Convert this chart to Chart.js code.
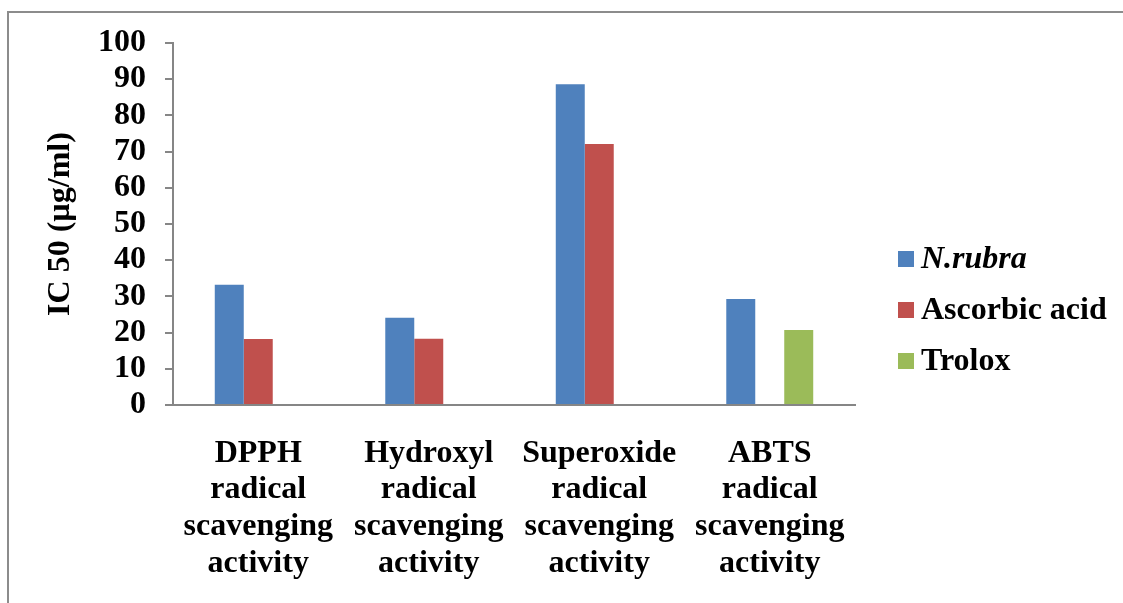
<!DOCTYPE html>
<html>
<head>
<meta charset="utf-8">
<script src="https://cdn.jsdelivr.net/npm/chart.js@4/dist/chart.umd.min.js"></script>
<style>
  html, body { margin: 0; padding: 0; background: #fff; }
  body { width: 1123px; height: 603px; overflow: hidden; position: relative; }
  #frame {
    position: absolute; left: 7px; top: 11px; right: 0; bottom: 0;
    border-left: 2px solid #8c8c8c; border-top: 2px solid #8c8c8c;
  }
  #wrap { position: absolute; left: 0; top: 0; width: 1114px; height: 590px; }
</style>
</head>
<body>
<div id="frame"><div id="wrap"><canvas id="c" width="1114" height="590"></canvas></div></div>
<script>
// Categories (multi-line axis labels)
const categories = [
  ['DPPH', 'radical', 'scavenging', 'activity'],
  ['Hydroxyl', 'radical', 'scavenging', 'activity'],
  ['Superoxide', 'radical', 'scavenging', 'activity'],
  ['ABTS', 'radical', 'scavenging', 'activity']
];
// IC50 values (µg/ml)
const nRubra = [33.2, 24.1, 88.6, 29.3];
const ascorbicAcid = [18.2, 18.3, 72.1, null];
const trolox = [null, null, null, 20.7];
const seriesNames = ['N.rubra', 'Ascorbic acid', 'Trolox'];
const yTicks = [0, 10, 20, 30, 40, 50, 60, 70, 80, 90, 100];

const colors = ['#4F81BD', '#C0504D', '#9BBB59'];
const serif = '"Liberation Serif", "Times New Roman", serif';
const fontSize = 32;

// Legend drawn to the right of the plot; the first entry is a species name, set in italics
const sideLegend = {
  id: 'sideLegend',
  afterDraw(chart) {
    const ctx = chart.ctx;
    const area = chart.chartArea;
    const cy = chart.height / 2 + 2;
    const step = 51;
    ctx.save();
    chart.data.datasets.forEach((ds, i) => {
      const y = cy + (i - 1) * step;
      const bx = area.right + 43;
      ctx.fillStyle = ds.backgroundColor;
      ctx.fillRect(bx, y - 8, 16, 16);
      ctx.fillStyle = '#000';
      ctx.font = (i === 0 ? 'italic ' : '') + 'bold ' + fontSize + 'px ' + serif;
      ctx.textBaseline = 'middle';
      ctx.textAlign = 'left';
      ctx.fillText(ds.label, bx + 23, y + 1);
    });
    ctx.restore();
  }
};

new Chart(document.getElementById('c'), {
  type: 'bar',
  data: {
    labels: categories,
    datasets: [
      { label: seriesNames[0], data: nRubra, backgroundColor: colors[0] },
      { label: seriesNames[1], data: ascorbicAcid, backgroundColor: colors[1] },
      { label: seriesNames[2], data: trolox, backgroundColor: colors[2] }
    ]
  },
  options: {
    responsive: false,
    animation: false,
    devicePixelRatio: 1,
    layout: { padding: { top: 30, right: 268, bottom: 24, left: 0 } },
    datasets: { bar: { categoryPercentage: 0.51, barPercentage: 1.0 } },
    plugins: { legend: { display: false }, tooltip: { enabled: false } },
    scales: {
      x: {
        afterFit(scale) { scale.height = 174; scale.paddingLeft = 0; scale.paddingRight = 0; },
        grid: { display: false, drawTicks: false },
        border: { display: true, color: '#868686', width: 2 },
        ticks: {
          color: '#000',
          padding: 30,
          maxRotation: 0,
          autoSkip: false,
          font: { family: serif, size: fontSize, weight: 'bold', lineHeight: 1.15 }
        }
      },
      y: {
        min: 0,
        max: 100,
        afterBuildTicks(scale) { scale.ticks = yTicks.map(v => ({ value: v })); },
        afterFit(scale) { scale.width = 164; scale.paddingTop = 0; scale.paddingBottom = 0; },
        grid: { drawOnChartArea: false, drawTicks: true, tickLength: 8, color: '#868686', lineWidth: 2 },
        border: { display: true, color: '#868686', width: 2 },
        ticks: {
          color: '#000',
          padding: 19,
          autoSkip: false,
          font: { family: serif, size: fontSize, weight: 'bold', lineHeight: 1.2 }
        },
        title: {
          display: true,
          text: 'IC 50 (µg/ml)',
          color: '#000',
          padding: { top: 33, bottom: 0 },
          font: { family: serif, size: fontSize, weight: 'bold', lineHeight: 1.2 }
        }
      }
    }
  },
  plugins: [sideLegend]
});
</script>
</body>
</html>
